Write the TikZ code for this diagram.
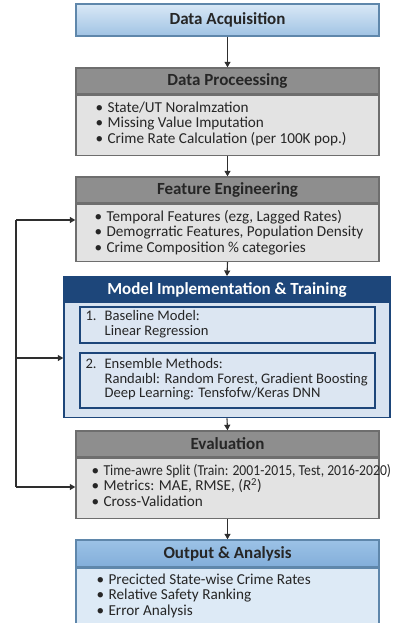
\documentclass[tikz,border=0pt]{standalone}
\usepackage{fontspec}
\setmainfont{Carlito}
\usetikzlibrary{arrows.meta,calc}

\definecolor{grayhead}{HTML}{8E8E8E}
\definecolor{graybody}{HTML}{E3E3E3}
\definecolor{grayline}{HTML}{6E6E6E}
\definecolor{navy}{HTML}{1D467A}
\definecolor{navybody}{HTML}{D8E3F0}
\definecolor{innerbody}{HTML}{DCE6F2}
\definecolor{bluetop}{HTML}{D9E8F6}
\definecolor{bluebot}{HTML}{A0C3E4}
\definecolor{blueline}{HTML}{5F87AB}
\definecolor{outtop}{HTML}{9CC2E6}
\definecolor{outbot}{HTML}{82AEDA}
\definecolor{outbody}{HTML}{DDEAF6}
\definecolor{arrowcol}{HTML}{2E2E2E}

\tikzset{
  headfont/.style={font=\fontsize{17}{18}\selectfont\bfseries},
  bodyfont/.style={font=\fontsize{15.2}{15.5}\selectfont},
  innerfont/.style={font=\fontsize{14.6}{14.4}\selectfont},
  box/.style={rectangle, minimum width=303pt, inner sep=0pt, line width=1.4pt},
  grayhd/.style={box, headfont, fill=grayhead, draw=grayline, minimum height=26pt, text=black!85},
  graybd/.style={box, fill=graybody, draw=grayline},
  txt/.style={bodyfont, align=left, inner sep=0pt, anchor=west, text=black!85},
  flow/.style={draw=arrowcol, line width=1.1pt, -{Triangle[width=6pt,length=5.5pt]}},
}

\begin{document}
\begin{tikzpicture}[x=1pt,y=-1pt]
\useasboundingbox (0,0) rectangle (398,623);

% Data acquisition
\node[box, headfont, minimum height=32pt, draw=blueline, top color=bluetop, bottom color=bluebot, text=black!85]
  (acq) at (227.5,20) {Data Acquisition};

% Data processing
\node[grayhd] (prochd) at (227.5,81) {Data Proceessing};
\node[graybd, minimum height=60pt, anchor=north] (procbd) at (prochd.south) {};
\node[txt] (proctx) at ($(procbd.west)+(20,-1.5)$)
  {\textbullet\hspace{4.5pt}State/UT Noralmzation\\
   \textbullet\hspace{4.5pt}Missing Value Imputation\\
   \textbullet\hspace{4.5pt}Crime Rate Calculation (per 100K pop.)};

% Feature engineering
\node[grayhd] (feathd) at (227.5,190) {Feature Engineering};
\node[graybd, minimum height=57pt, anchor=north] (featbd) at (feathd.south) {};
\node[txt] (feattx) at ($(featbd.west)+(19,-0.5)$)
  {\textbullet\hspace{4.5pt}Temporal Features (ezg, Lagged Rates)\\
   \textbullet\hspace{4.5pt}Demogrratic Features, Population Density\\
   \textbullet\hspace{4.5pt}Crime Composition \% categories};

% Model implementation and training
\node[box, minimum width=326pt, minimum height=141pt, fill=navybody, draw=navy, anchor=north]
  (modbd) at (227,276) {};
\node[box, headfont, minimum width=326pt, minimum height=26pt, fill=navy, draw=navy, text=white, anchor=north]
  (modhd) at (modbd.north) {Model Implementation \& Training};
\node[box, minimum width=295pt, minimum height=36pt, fill=innerbody, draw=navy, line width=1.3pt]
  (base) at (227.5,325) {};
\node[txt, innerfont] (basetx) at ($(base.west)+(6,0)$)
  {\begin{tabular}{@{}l@{\hspace{8pt}}l@{}}1. & Baseline Model:\\ & Linear Regression\end{tabular}};
\node[box, minimum width=295pt, minimum height=55pt, fill=innerbody, draw=navy, line width=1.3pt]
  (ens) at (227.5,380.5) {};
\node[txt, innerfont] (enstx) at ($(ens.west)+(6,0)$)
  {\begin{tabular}{@{}l@{\hspace{8pt}}l@{}}2. & Ensemble Methods:\\
   & Randaıbl: Random Forest, Gradient Boosting\\
   & Deep Learning: Tensfofw/Keras DNN\end{tabular}};

% Evaluation
\node[grayhd] (evalhd) at (227.5,444) {Evaluation};
\node[graybd, minimum height=60pt, anchor=north] (evalbd) at (evalhd.south) {};
\node[txt] (evaltx) at ($(evalbd.west)+(16,-3)$)
  {\textbullet\hspace{4.5pt}\scalebox{0.9}[1]{Time-awre Split (Train: 2001-2015, Test, 2016-2020)}\\
   \textbullet\hspace{4.5pt}Metrics: MAE, RMSE, (\textit{R}\textsuperscript{2})\\
   \textbullet\hspace{4.5pt}Cross-Validation};

% Output and analysis
\node[box, headfont, minimum height=27pt, draw=blueline, top color=outtop, bottom color=outbot, text=black!85]
  (outhd) at (227.5,553.5) {Output \& Analysis};
\node[box, minimum height=55pt, fill=outbody, draw=blueline, anchor=north] (outbd) at (outhd.south) {};
\node[txt] (outtx) at ($(outbd.west)+(21,0)$)
  {\textbullet\hspace{4.5pt}Precicted State-wise Crime Rates\\
   \textbullet\hspace{4.5pt}Relative Safety Ranking\\
   \textbullet\hspace{4.5pt}Error Analysis};

% Main flow
\draw[flow] (acq.south) -- (prochd.north);
\draw[flow] (procbd.south) -- (feathd.north);
\draw[flow] (featbd.south) -- (modhd.north);
\draw[flow] (modbd.south) -- (evalhd.north);
\draw[flow] (evalbd.south) -- (outhd.north);

% Feedback loop on the left
\coordinate (loopT) at (16,220);
\coordinate (loopM) at (16,358);
\coordinate (loopB) at (16,487);
\draw[draw=arrowcol, line width=1.1pt] (loopT) -- (loopB);
\draw[flow] (loopT) -- (loopT -| featbd.west);
\draw[flow] (loopM) -- (loopM -| modbd.west);
\draw[flow] (loopB) -- (loopB -| evalbd.west);
\end{tikzpicture}
\end{document}
